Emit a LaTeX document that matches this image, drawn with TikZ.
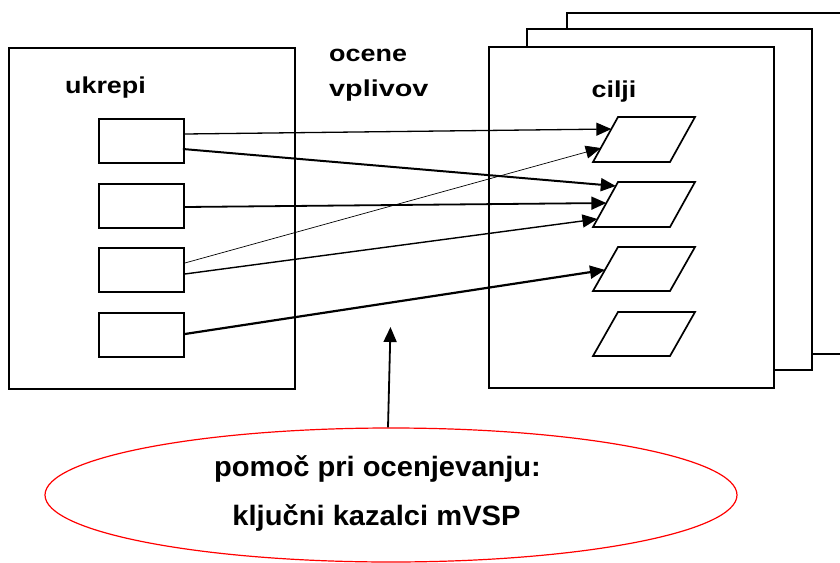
\documentclass[tikz,border=0pt]{standalone}
\usepackage{fontspec}
\newfontfamily\lab{Liberation Sans}[FakeStretch=1.17]
\newfontfamily\etf{Liberation Sans}[FakeStretch=1.04]
\usetikzlibrary{arrows.meta,shapes.geometric,calc}
\tikzset{
  bigbox/.style={draw, line width=1.8pt, fill=white, inner sep=0pt, minimum width=285pt, minimum height=341pt},
  ubox/.style={draw, line width=1.7pt, inner sep=0pt, minimum width=85pt, minimum height=44pt},
  para/.style={draw, line width=1.7pt, line join=miter},
  lbl/.style={font=\lab\bfseries\fontsize{23}{27}\selectfont, inner sep=0pt, anchor=base},
  etxt/.style={font=\etf\bfseries\fontsize{28}{32}\selectfont, inner sep=0pt, anchor=base},
  arr/.style={-{Triangle[length=15pt,width=13pt]}},
}
\begin{document}
\begin{tikzpicture}[x=1pt,y=-1pt]
\useasboundingbox (0,0) rectangle (840,562);
\path[clip] (0,0) rectangle (840,562);
\fill[white] (0,0) rectangle (840,562);

% right stacked boxes
\node[bigbox] (back) at (709.5,183.5) {};
\node[bigbox] (mid) at (669.5,199.5) {};
\node[bigbox] (front) at (631.5,217.5) {};
% left box
\node[bigbox, minimum width=286pt] (left) at (152,218.5) {};

% labels
\node[lbl] (tukrepi) at (105.5,93) {ukrepi};
\node[lbl] (tcilji) at (614,97) {cilji};
\node[lbl, anchor=base west] (tocene) at (329,61) {ocene};
\node[lbl, anchor=base west, xscale=1.07] (tvplivov) at (329,96) {vplivov};

% ukrepi boxes
\node[ubox] (u1) at (141.5,141) {};
\node[ubox] (u2) at (141.5,206) {};
\node[ubox] (u3) at (141.5,270) {};
\node[ubox] (u4) at (141.5,335) {};

% cilji parallelograms
\draw[para] (618,117) coordinate (p1tl) -- (695,117) -- (670,162) -- (593,162) coordinate (p1bl) -- cycle;
\draw[para] (618,182) coordinate (p2tl) -- (695,182) -- (670,227) -- (593,227) coordinate (p2bl) -- cycle;
\draw[para] (618,247) coordinate (p3tl) -- (695,247) -- (670,291) -- (593,291) coordinate (p3bl) -- cycle;
\draw[para] (618,312) coordinate (p4tl) -- (695,312) -- (670,356) -- (593,356) coordinate (p4bl) -- cycle;

% arrows
\draw[arr, line width=1.3pt] ([yshift=7pt]u1.east) -- ($(p1tl)!0.267!(p1bl)$);
\draw[arr, line width=2pt] ([xshift=-2pt,yshift=-8pt]u1.east) -- ($(p2tl)!0.089!(p2bl)$);
\draw[arr, line width=1.8pt] ([yshift=-1pt]u2.east) -- ($(p2tl)!0.467!(p2bl)$);
\draw[arr, line width=0.7pt] ([yshift=7pt]u3.east) -- ($(p1tl)!0.69!(p1bl)$);
\draw[arr, line width=1.4pt] ([yshift=-4pt]u3.east) -- ($(p2tl)!0.822!(p2bl)$);
\draw[arr, line width=2.2pt] ([yshift=1pt]u4.east) -- ($(p3tl)!0.52!(p3bl)$);

% ellipse
\node[draw=red, line width=1.2pt, ellipse, inner sep=0pt, minimum width=692pt, minimum height=134pt] (ell) at (391,495) {};
\node[etxt] (e1) at (377.5,476) {pomoč pri ocenjevanju:};
\node[etxt] (e2) at (376.5,525) {ključni kazalci mVSP};
\coordinate (uptip) at (390.5,327);
\draw[arr, line width=1.8pt] ([xshift=-3pt]ell.north) -- (uptip);
\end{tikzpicture}
\end{document}
